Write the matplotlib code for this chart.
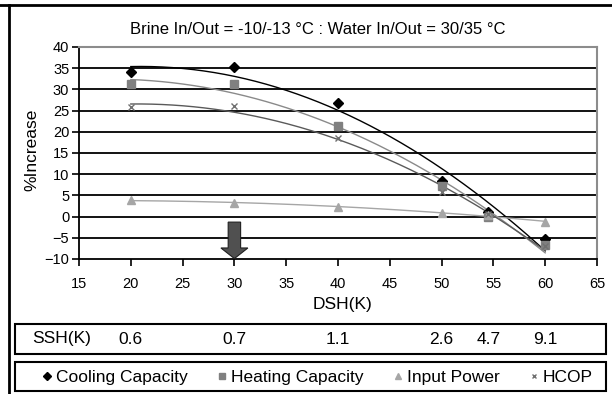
import numpy as np
import matplotlib
matplotlib.use('Agg')
import matplotlib.pyplot as plt
import matplotlib.transforms as mtransforms
from matplotlib.patches import Rectangle, FancyArrow
from matplotlib.lines import Line2D

# ---- data ----
dsh = [20, 30, 40, 50, 54.5, 60]
ssh_labels = ['0.6', '0.7', '1.1', '2.6', '4.7', '9.1']
cooling = [34.0, 35.2, 26.7, 8.5, 1.0, -5.3]
heating = [31.2, 31.2, 21.3, 7.3, -0.1, -6.8]
input_power = [3.8, 3.3, 2.3, 0.8, 0.4, -1.3]
hcop = [25.8, 26.0, 18.5, 5.8, 0.5, -7.0]
series_names = ['Cooling Capacity', 'Heating Capacity', 'Input Power', 'HCOP']
title = 'Brine In/Out = -10/-13 °C : Water In/Out = 30/35 °C'
arrow_x = 30

W, H = 612, 394
fig = plt.figure(figsize=(W / 100, H / 100), dpi=100)
plt.rcParams['font.family'] = ['Liberation Sans', 'DejaVu Sans']

def fx(px):
    return px / W

def fy(py):
    return 1 - py / H

ax = fig.add_axes([fx(79), fy(259), fx(597) - fx(79), fy(47) - fy(259)])

styles = [
    dict(marker='D', color='black', ms=5, line='black'),
    dict(marker='s', color='#808080', ms=6, line='#8a8a8a'),
    dict(marker='^', color='#a6a6a6', ms=6, line='#a6a6a6'),
    dict(marker='x', color='#707070', ms=4, line='#5a5a5a'),
]
all_series = [cooling, heating, input_power, hcop]

xfit = np.linspace(min(dsh), max(dsh), 200)
handles = []
for vals, st in zip(all_series, styles):
    coef = np.polyfit(dsh, vals, 2)
    ax.plot(xfit, np.polyval(coef, xfit), color=st['line'], lw=1.0, zorder=3)
    ax.plot(dsh, vals, linestyle='none', marker=st['marker'], color=st['color'],
            ms=st['ms'], mew=1.0, zorder=4)
    handles.append(Line2D([], [], linestyle='none', marker=st['marker'],
                          color=st['color'], ms=st['ms'] * 0.75, mew=1.0))

ax.set_xlim(15, 65)
ax.set_ylim(-10, 40)
ax.set_xticks(np.arange(15, 66, 5))
ax.set_yticks(np.arange(-10, 41, 5))
ax.set_axisbelow(True)
ax.yaxis.grid(True, color='black', lw=1.3)
ax.yaxis.get_gridlines()[-1].set_visible(False)
ax.yaxis.get_gridlines()[0].set_visible(False)

for s in ['top', 'right']:
    ax.spines[s].set_color('#8c8c8c')
    ax.spines[s].set_linewidth(1.5)
for s in ['left', 'bottom']:
    ax.spines[s].set_color('black')
    ax.spines[s].set_linewidth(1.3)

ax.tick_params(axis='x', direction='out', length=5, width=1.2, pad=8,
               labelsize=10.5, colors='black')
ax.tick_params(axis='y', direction='out', length=5, width=1.2, pad=2,
               labelsize=10.5, colors='black')

# arrow
ax.add_patch(FancyArrow(arrow_x, -1.3, 0, -8.6, width=1.2, head_width=2.6,
                        head_length=2.5, length_includes_head=True,
                        facecolor='#505050', edgecolor='#202020', lw=0.8,
                        zorder=5))

LBL = 12.5
fig.text(fx(318), fy(30), title, ha='center', va='center', fontsize=12)
fig.text(fx(342), fy(304), 'DSH(K)', ha='center', va='center', fontsize=LBL)
fig.text(fx(32), fy(150), '%Increase', ha='center', va='center', rotation=90,
         fontsize=LBL)

# SSH box
fig.add_artist(Rectangle((fx(15), fy(354)), fx(606) - fx(15), fy(324) - fy(354),
                         transform=fig.transFigure, fill=False,
                         edgecolor='black', lw=1.5))
fig.text(fx(32), fy(339), 'SSH(K)', ha='left', va='center', fontsize=LBL)
blend = mtransforms.blended_transform_factory(ax.transData, fig.transFigure)
for xv, lab in zip(dsh, ssh_labels):
    fig.text(xv, fy(339), lab, transform=blend, ha='center', va='center',
             fontsize=LBL)

# legend box
fig.add_artist(Rectangle((fx(15), fy(391)), fx(606) - fx(15), fy(362) - fy(391),
                         transform=fig.transFigure, fill=False,
                         edgecolor='black', lw=1.5))
fig.legend(handles, series_names, loc='center', ncol=4, frameon=False,
           bbox_to_anchor=(fx(318), fy(377)), fontsize=LBL,
           handlelength=0.5, handletextpad=0.25, columnspacing=1.75,
           borderpad=0.1)

# outer frame lines
fig.add_artist(Line2D([0, 1], [fy(5), fy(5)], transform=fig.transFigure,
                      color='black', lw=2))
fig.add_artist(Line2D([fx(8.5), fx(8.5)], [fy(5), 0], transform=fig.transFigure,
                      color='black', lw=2))

fig.savefig('out.png', dpi=100)
